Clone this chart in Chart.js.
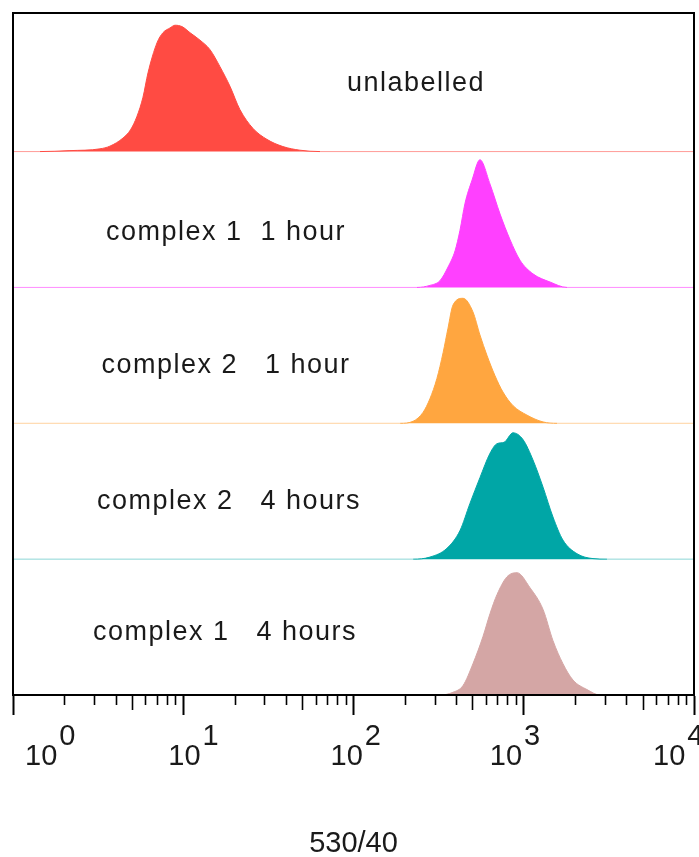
<!DOCTYPE html>
<html>
<head>
<meta charset="utf-8">
<title>530/40 histograms</title>
<script src="https://cdn.jsdelivr.net/npm/chart.js@4.4.0/dist/chart.umd.min.js"></script>
<style>
  html, body { margin: 0; padding: 0; background: #fff; }
  canvas { display: block; }
</style>
</head>
<body>
<canvas id="histChart" width="699" height="857"></canvas>
<script>
// x axis: log decades
const decades = [1, 10, 100, 1000, 10000];
const decadeExp = ['0', '1', '2', '3', '4'];
const axisTitle = '530/40';

// sample names, top row first
const sampleNames = ['unlabelled', 'complex 1  1 hour', 'complex 2   1 hour', 'complex 2   4 hours', 'complex 1   4 hours'];

// histograms: channel value / count (% of row height)
const unlabelledX = [1.44, 2.16, 3.24, 3.71, 4.43, 4.9, 5.35, 5.80, 6.21, 7.01, 7.60, 8.36, 8.95, 9.83, 10.96, 12.54, 14.36, 16.43, 18.82, 21.5, 25.7, 31.0, 38.5, 48.5, 63.6];
const unlabelledY = [0, 0.7, 2, 4, 10, 16, 26, 40, 58, 80, 87.5, 91, 93, 92, 87.5, 82, 75, 62.5, 48, 31, 17, 9, 3.7, 1, 0];

const c1h1X = [236, 281, 322, 359, 395, 422, 452, 497, 553, 634, 726, 832, 951, 1133, 1426, 1795];
const c1h1Y = [0, 1.5, 5, 15, 27, 42, 62, 79, 94, 76, 54, 35, 20, 10, 4, 0];

const c2h1X = [188, 224, 256, 281, 309, 336, 359, 384, 440, 503, 553, 608, 678, 755, 865, 1045, 1298, 1568];
const c2h1Y = [0, 1.5, 8, 18, 33, 52, 70, 87, 92, 82, 65, 50, 35, 23, 13, 6, 1, 0];

const c2h4X = [224, 281, 354, 422, 483, 553, 634, 697, 766, 865, 990, 1133, 1298, 1485, 1700, 2055, 2551, 3083];
const c2h4Y = [0, 1.5, 8, 21, 41, 60, 78, 85, 86, 93, 88, 73, 53, 31, 14, 4, 0.4, 0];

const c1h4X = [322, 384, 440, 503, 576, 634, 697, 797, 913, 1088, 1298, 1485, 1700, 1947, 2352, 2805];
const c1h4Y = [0, 2, 7, 23, 43, 60, 74, 87, 90, 79, 63, 40, 23, 11, 4, 0];

// styles
const rowBase = [400, 300, 200, 100, 0];
const fillColors = ['#ff4b43', '#ff40ff', '#ffa640', '#00a6a6', '#d4a6a5'];
const baseColors = ['rgba(255,75,67,0.55)', 'rgba(255,64,255,0.6)', 'rgba(255,166,64,0.5)', 'rgba(0,166,166,0.45)', '#d4a6a5'];
const labelCenter = [416, 226, 226, 229, 225];   // px
const labelRise = [61, 47, 50, 50, 55];          // px above row baseline
const expShift = [12, -15, -23, -34, -41];       // px from tick to "10"

const series = [
  [unlabelledX, unlabelledY],
  [c1h1X, c1h1Y],
  [c2h1X, c2h1Y],
  [c2h4X, c2h4Y],
  [c1h4X, c1h4Y]
];

function buildDataset(i) {
  const xs = [1].concat(series[i][0], [10000]);
  const hs = [0].concat(series[i][1], [0]);
  const base = rowBase[i];
  return {
    label: sampleNames[i],
    data: xs.map((x, k) => ({ x: x, y: base + hs[k] })),
    fill: { value: base },
    backgroundColor: fillColors[i],
    borderColor: fillColors[i],
    borderWidth: 1,
    pointRadius: 0,
    cubicInterpolationMode: 'monotone',
    segment: {
      borderColor: ctx => (hs[ctx.p0DataIndex] === 0 && hs[ctx.p1DataIndex] === 0) ? baseColors[i] : fillColors[i]
    }
  };
}

const decorPlugin = {
  id: 'decor',
  afterDraw(chart) {
    const { ctx, chartArea: a, scales: { x, y } } = chart;
    ctx.save();

    // frame
    ctx.strokeStyle = '#000';
    ctx.lineWidth = 2;
    ctx.strokeRect(a.left, a.top, a.right - a.left, a.bottom - a.top);

    // minor ticks
    ctx.lineWidth = 1.6;
    for (let d = 0; d < decades.length - 1; d++) {
      for (let m = 2; m <= 9; m++) {
        const px = Math.round(x.getPixelForValue(decades[d] * m)) + 0.5;
        const len = m === 5 ? 15 : 10;
        ctx.beginPath();
        ctx.moveTo(px, a.bottom);
        ctx.lineTo(px, a.bottom + len);
        ctx.stroke();
      }
    }

    // decade labels 10^n
    ctx.fillStyle = '#1a1a1a';
    ctx.textBaseline = 'alphabetic';
    ctx.textAlign = 'left';
    ctx.font = '29px "Liberation Sans", Arial, sans-serif';
    decades.forEach((v, k) => {
      const px = x.getPixelForValue(v) + expShift[k];
      ctx.fillText('10', px, a.bottom + 70);
      const w = ctx.measureText('10').width;
      ctx.fillText(decadeExp[k], px + w + 2, a.bottom + 50);
    });

    // axis title
    ctx.textAlign = 'center';
    ctx.fillText(axisTitle, (a.left + a.right) / 2, a.bottom + 157);

    // sample labels
    ctx.font = '27px "Liberation Sans", Arial, sans-serif';
    ctx.letterSpacing = '1.5px';
    sampleNames.forEach((name, i) => {
      ctx.fillText(name, labelCenter[i], y.getPixelForValue(rowBase[i]) - labelRise[i]);
    });

    ctx.restore();
  }
};

new Chart(document.getElementById('histChart'), {
  type: 'line',
  data: { datasets: sampleNames.map((_, i) => buildDataset(i)) },
  options: {
    responsive: false,
    animation: false,
    layout: { padding: { left: 13, right: 5, top: 13, bottom: 142 } },
    plugins: { legend: { display: false }, tooltip: { enabled: false } },
    scales: {
      x: {
        type: 'logarithmic',
        min: 1,
        max: 10000,
        afterBuildTicks: scale => { scale.ticks = decades.map(v => ({ value: v, major: true })); },
        ticks: { display: false },
        grid: { drawOnChartArea: false, drawTicks: true, tickLength: 20, tickWidth: 2, tickColor: '#000' },
        border: { color: '#000', width: 2 }
      },
      y: {
        type: 'linear',
        min: 0,
        max: 502,
        display: false
      }
    }
  },
  plugins: [decorPlugin]
});
</script>
</body>
</html>
